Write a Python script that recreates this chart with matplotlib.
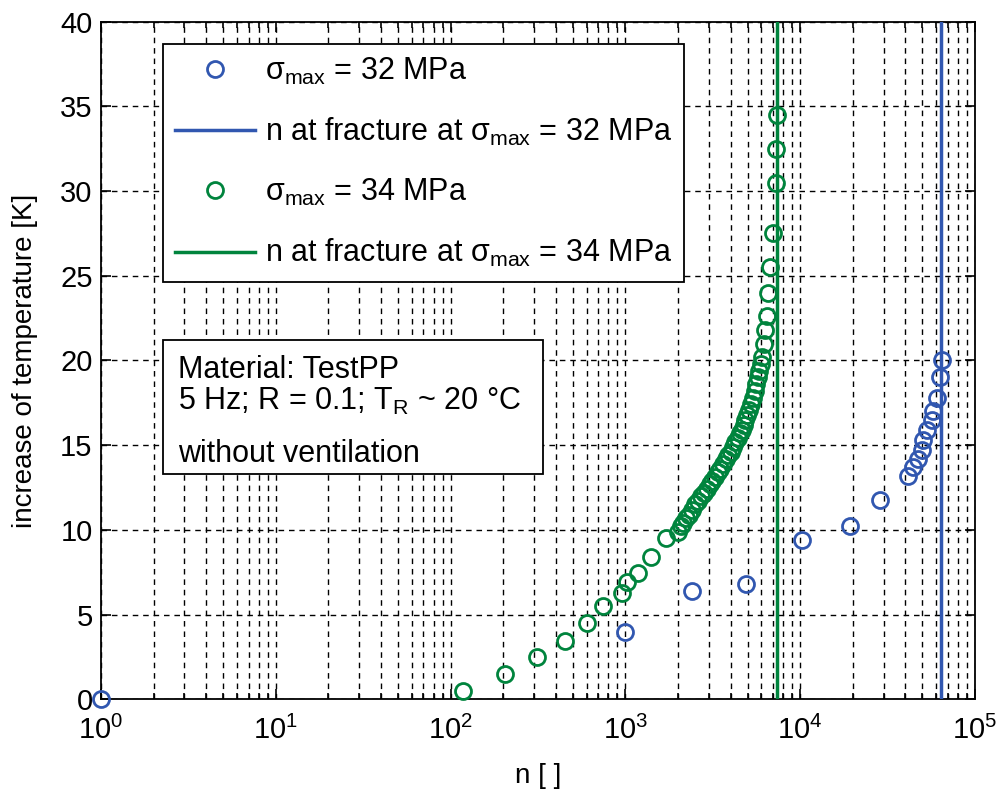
import matplotlib
matplotlib.use("Agg")
import matplotlib.pyplot as plt
from matplotlib.patches import Rectangle
from matplotlib.ticker import LogLocator, LogFormatterMathtext, MultipleLocator, NullFormatter

plt.rcParams['font.family'] = ['Liberation Sans', 'DejaVu Sans']
plt.rcParams['mathtext.fontset'] = 'custom'
plt.rcParams['mathtext.rm'] = 'Liberation Sans'
plt.rcParams['mathtext.it'] = 'Liberation Sans:italic'
plt.rcParams['mathtext.bf'] = 'Liberation Sans:bold'
plt.rcParams['mathtext.sf'] = 'Liberation Sans'

# sigma_max = 32 MPa
n_32 = [1, 1000, 2400, 4900, 10200, 19300, 28600, 41400, 44200, 47200,
        49800, 50500, 53100, 56800, 57500, 60700, 63100, 64700]
dT_32 = [0.0, 4.0, 6.4, 6.8, 9.4, 10.2, 11.75, 13.2, 13.7, 14.2,
         14.7, 15.3, 15.9, 16.5, 17.0, 17.8, 19.0, 20.0]
n_fracture_32 = 64000

# sigma_max = 34 MPa
n_34 = [118, 205, 312, 451, 603, 745, 955, 1020, 1180, 1400, 1710,
        2000, 2080, 2150, 2230, 2320, 2400, 2500, 2600, 2700, 2800,
        2920, 3030, 3150, 3270, 3400, 3500, 3620, 3750, 3870, 4000,
        4120, 4250, 4380, 4500, 4620, 4750, 4860, 4980, 5100, 5220,
        5350, 5480, 5600, 5720, 5850, 5950, 6050, 6200, 6300, 6460,
        6540, 6720, 6990, 7270, 7300, 7370]
dT_34 = [0.5, 1.5, 2.5, 3.45, 4.5, 5.5, 6.3, 6.9, 7.45, 8.4, 9.5,
         9.9, 10.2, 10.4, 10.7, 10.9, 11.2, 11.5, 11.7, 12.0, 12.2,
         12.4, 12.7, 12.9, 13.1, 13.4, 13.6, 13.9, 14.2, 14.4, 14.6,
         14.9, 15.2, 15.4, 15.7, 15.9, 16.2, 16.5, 16.8, 17.1, 17.4,
         17.8, 18.2, 18.6, 19.0, 19.4, 19.8, 20.2, 21.0, 21.8, 22.6,
         24.0, 25.5, 27.5, 30.5, 32.5, 34.5]
n_fracture_34 = 7400

info_lines = ['Material: TestPP',
              '5 Hz; R = 0.1; T$_{\\rm R}$ ~ 20 °C',
              'without ventilation']

blue = '#3157b0'
green = '#00843d'
fs_text = 22
fs_tick = 21
fs_label = 20

fig = plt.figure(figsize=(9.99, 8.01), dpi=100)
ax = fig.add_axes([0.101, 0.127, 0.875, 0.846])

ax.semilogx(n_32, dT_32, 'o', mfc='none', mec=blue, mew=2.0, ms=11.5,
            clip_on=False, zorder=4, label=r'σ$_{\rm max}$ = 32 MPa')
ax.axvline(n_fracture_32, color=blue, lw=2.5, zorder=3,
           label=r'n at fracture at σ$_{\rm max}$ = 32 MPa')
ax.semilogx(n_34, dT_34, 'o', mfc='none', mec=green, mew=2.0, ms=11.5,
            clip_on=False, zorder=4, label=r'σ$_{\rm max}$ = 34 MPa')
ax.axvline(n_fracture_34, color=green, lw=2.5, zorder=3,
           label=r'n at fracture at σ$_{\rm max}$ = 34 MPa')

ax.set_xlim(1, 1e5)
ax.set_ylim(0, 40)
ax.xaxis.set_major_locator(LogLocator(base=10, numticks=10))
ax.xaxis.set_minor_locator(LogLocator(base=10, subs=range(2, 10), numticks=100))
ax.xaxis.set_major_formatter(LogFormatterMathtext())
ax.xaxis.set_minor_formatter(NullFormatter())
ax.yaxis.set_major_locator(MultipleLocator(5))

grid_style = dict(color='black', linestyle=(0, (4, 3.5)), linewidth=1.0)
ax.grid(True, which='major', axis='both', **grid_style)
ax.grid(True, which='minor', axis='x', **grid_style)
ax.set_axisbelow(True)

ax.tick_params(which='both', direction='in', top=True, right=True,
               labelsize=fs_tick, width=1.2, color='black')
ax.tick_params(which='major', length=7)
ax.tick_params(which='minor', length=4)
ax.tick_params(axis='x', which='major', pad=12)
ax.tick_params(axis='y', which='major', pad=6)
for sp in ax.spines.values():
    sp.set_linewidth(1.3)

ax.set_xlabel('n [ ]', fontsize=fs_label, labelpad=13)
ax.set_ylabel('increase of temperature [K]', fontsize=fs_label, labelpad=16)

leg = ax.legend(loc='upper left', bbox_to_anchor=(0.071, 0.9675),
                fontsize=fs_text, frameon=True, fancybox=False, framealpha=1,
                edgecolor='black', handlelength=2.6, borderpad=0.4,
                labelspacing=0.95, handletextpad=0.33, borderaxespad=0)
leg.get_frame().set_linewidth(1.3)

# annotation box with the test conditions
ax.add_patch(Rectangle((0.071, 0.3323), 0.4347, 0.1977, transform=ax.transAxes,
                       facecolor='white', edgecolor='black', lw=1.3, zorder=5))
for line, y in zip(info_lines, [0.474, 0.427, 0.350]):
    ax.text(0.088, y, line, transform=ax.transAxes, fontsize=fs_text,
            va='baseline', ha='left', zorder=6)

fig.savefig('out.png', dpi=100)
